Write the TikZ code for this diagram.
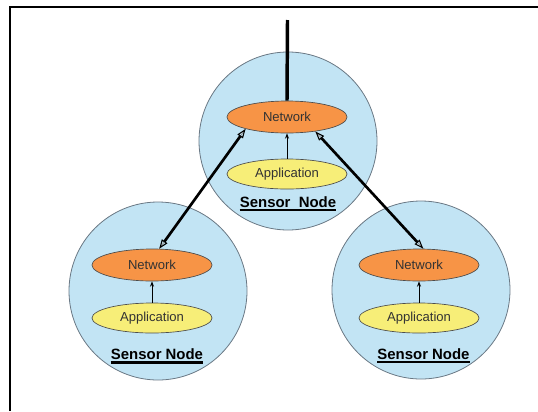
\documentclass[tikz,border=0pt]{standalone}
\usepackage{fontspec}
\setmainfont{Liberation Sans}
\usetikzlibrary{shapes.geometric,arrows.meta}
\definecolor{nodeblue}{HTML}{C2E4F4}
\definecolor{netorange}{HTML}{F79446}
\definecolor{appyellow}{HTML}{F7EE78}
\definecolor{rimgray}{HTML}{6A7884}
\definecolor{shadowgray}{HTML}{9A9A9A}
\tikzset{
  sensor/.style={circle, draw=rimgray, line width=0.6pt, fill=nodeblue,
    minimum size=178*0.75pt, inner sep=0pt},
  netlayer/.style={ellipse, draw=black!70, line width=0.5pt, fill=netorange,
    minimum width=120*0.75pt, minimum height=32*0.75pt, inner sep=0pt,
    font=\fontsize{9.8}{11}\selectfont, text=black!80},
  applayer/.style={ellipse, draw=black!70, line width=0.5pt, fill=appyellow,
    minimum width=120*0.75pt, minimum height=30*0.75pt, inner sep=0pt,
    font=\fontsize{9.8}{11}\selectfont, text=black!80},
  caption/.style={anchor=base, inner sep=0pt, font=\bfseries\fontsize{11.2}{13}\selectfont},
  uline/.style={line width=1.6pt, black},
  uplink/.style={-{Stealth[length=4pt,width=3pt]}, line width=0.7pt},
  peerlink/.style={{Triangle[open,length=7pt,width=5pt,line width=0.8pt]}-{Triangle[open,length=7pt,width=5pt,line width=0.8pt]}, line width=2pt, black},
  peershadow/.style={line width=0.6pt, shadowgray},
  frame/.style={line width=1.2pt, black}
}
\begin{document}
\begin{tikzpicture}[x=0.75pt, y=-0.75pt]
\useasboundingbox (0,0) rectangle (538,411);

% page frame (top and left edges)
\draw[frame] (10,411) -- (10,7) -- (538,7);

% sensor nodes
\node[sensor] (ct) at (288,141) {};
\node[sensor] (cl) at (158,291) {};
\node[sensor] (cr) at (421,290) {};

% protocol layers
\node[netlayer] (nt) at (287,117) {Network};
\node[applayer] (at) at (287,174) {Application};
\node[netlayer] (nl) at (152,265) {Network};
\node[applayer] (al) at (152,318) {Application};
\node[netlayer] (nr) at (419,265) {Network};
\node[applayer] (ar) at (419,318) {Application};

% captions
\node[caption] (lt) at (288,207) {Sensor\ \ Node};
\node[caption] (ll) at (157,359.5) {Sensor Node};
\node[caption] (lr) at (423.5,359) {Sensor Node};
\foreach \c in {lt,ll,lr}
  \draw[uline] ([shift={(0,3)}]\c.base west) -- ([shift={(0,3)}]\c.base east);

% application to network
\draw[uplink] (at.north) -- (nt.south);
\draw[uplink] (al.north) -- (nl.south);
\draw[uplink] (ar.north) -- (nr.south);

% uplink from the top node
\coordinate (feed) at (287.5,20);
\draw[line width=2.6pt] (feed) -- (nt.north);

% links between the sensor nodes
\begin{scope}[shift={(-2.5,-1.5)}]
  \draw[peershadow] (nl.66) -- (nt.196);
\end{scope}
\draw[peerlink] (nl.66) -- (nt.196);
\begin{scope}[shift={(2,-1.5)}]
  \draw[peershadow] (nt.333) -- (nr.75);
\end{scope}
\draw[peerlink] (nt.333) -- (nr.75);
\end{tikzpicture}
\end{document}
